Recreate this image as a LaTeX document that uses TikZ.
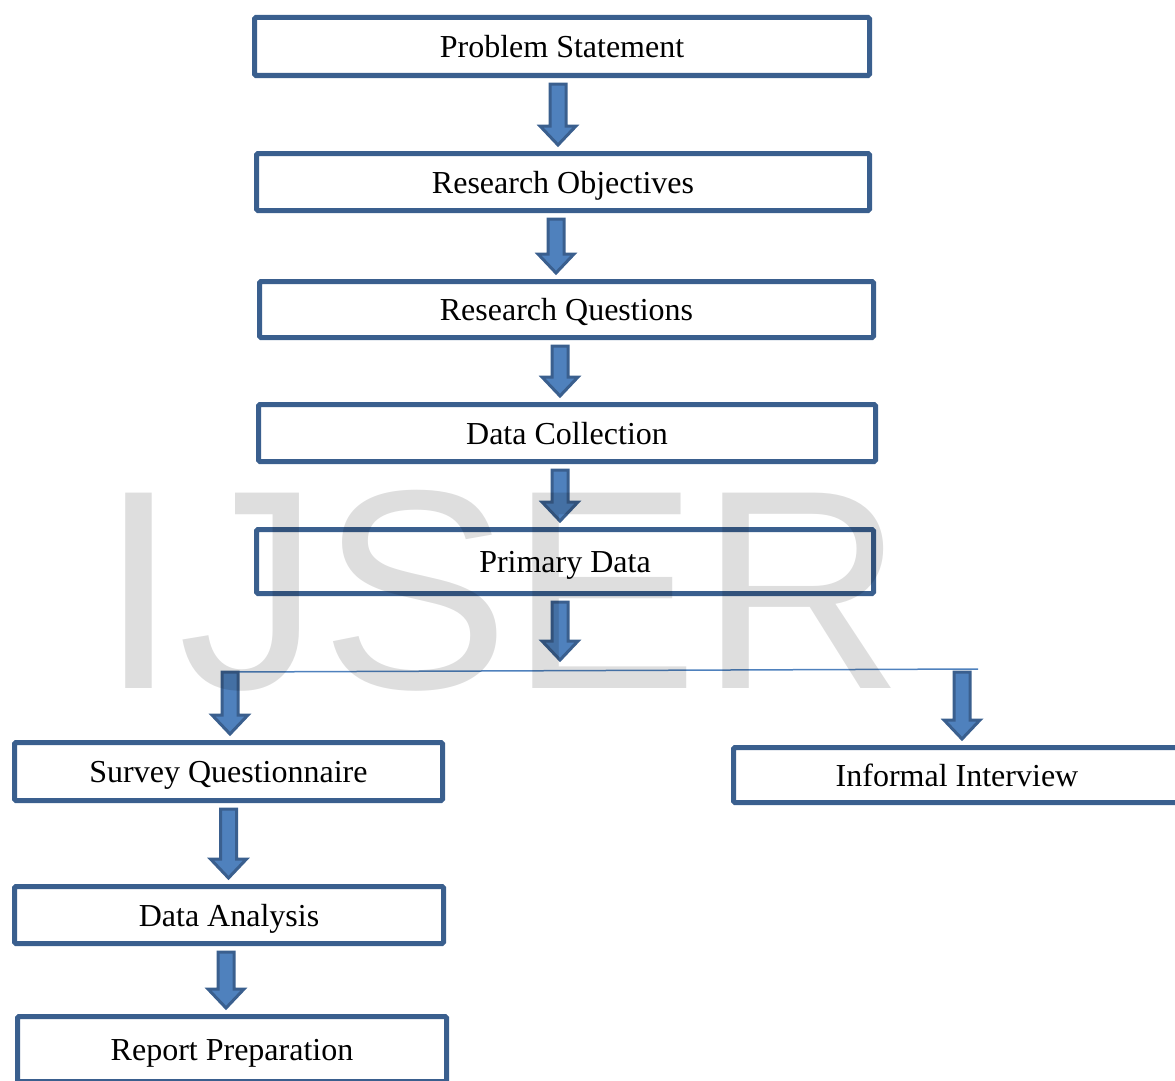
\documentclass[tikz,border=0pt]{standalone}
\usepackage{fontspec}
\setmainfont{Liberation Serif}
\newfontfamily\marksans{Liberation Sans}
\usetikzlibrary{calc}
\definecolor{boxline}{HTML}{3A5F8E}
\definecolor{arrowfill}{HTML}{4F81BD}

\begin{document}
\begin{tikzpicture}[x=1pt, y=-1pt]
  % Style definitions
  \tikzstyle{flowbox} = [rectangle, draw=boxline, line width=5pt, fill=white, text centered, inner sep=0pt, text height=24pt, text depth=2pt, rounded corners=1.5pt, font=\fontsize{32}{38}\selectfont]
  \tikzstyle{fatarrow} = [draw=boxline, fill=arrowfill, line width=3pt, line join=miter, to path={let \p1=(\tikztostart), \p2=(\tikztotarget) in (\x1-8pt,\y1-6pt) -- (\x1+8pt,\y1-6pt) -- (\x1+8pt,\y2+25pt) -- (\x1+18pt,\y2+25pt) -- (\x1,\y2+6pt) -- (\x1-18pt,\y2+25pt) -- (\x1-8pt,\y2+25pt) -- cycle}]

  \clip (0,0) rectangle (1175,1081);

  % Boxes
  \node (ps) [flowbox, minimum width=615, minimum height=58] at (562,46.5) {Problem Statement};
  \node (ro) [flowbox, minimum width=613, minimum height=57] at (563,182) {Research Objectives};
  \node (rq) [flowbox, minimum width=614, minimum height=56] at (566.5,309.5) {Research Questions};
  \node (dc) [flowbox, minimum width=617, minimum height=57] at (567,433) {Data Collection};
  \node (pd) [flowbox, minimum width=617, minimum height=64] at (565,561.5) {Primary Data};
  \node (sq) [flowbox, minimum width=428, minimum height=58] at (228.5,771.5) {Survey Questionnaire};
  \node (ii) [flowbox, minimum width=447, minimum height=55] at (957,775) {Informal Interview};
  \node (da) [flowbox, minimum width=429, minimum height=57] at (229,915) {Data Analysis};
  \node (rp) [flowbox, minimum width=429, minimum height=65] at (232,1049) {Report Preparation};

  % Split
  \coordinate (pdend) at (560,666);
  \coordinate (splitL) at (230,672);
  \coordinate (splitR) at (978,669);
  \coordinate (leftdown) at (230,666);
  \coordinate (rightdown) at (962,666);
  \draw[line width=1.5pt, arrowfill] (splitL) -- (splitR);

  % Arrows
  \draw[fatarrow] ([xshift=-4pt]ps.south) to (ro.north);
  \draw[fatarrow] ([xshift=-7pt]ro.south) to (rq.north);
  \draw[fatarrow] ([xshift=-6.5pt]rq.south) to (dc.north);
  \draw[fatarrow] ([xshift=-7pt]dc.south) to (pd.north);
  \draw[fatarrow] ([xshift=-5pt]pd.south) to (pdend);
  \draw[fatarrow] (leftdown) to (sq.north);
  \draw[fatarrow] (rightdown) to (ii.north);
  \draw[fatarrow] (sq.south) to (da.north);
  \draw[fatarrow] ([xshift=-3pt]da.south) to (rp.north);

  % Watermark
  \node (mark) [text=black, text opacity=0.13, inner sep=0pt, anchor=base, font=\marksans\fontsize{284}{284}\selectfont] at (502,688) {IJSER};
\end{tikzpicture}
\end{document}
